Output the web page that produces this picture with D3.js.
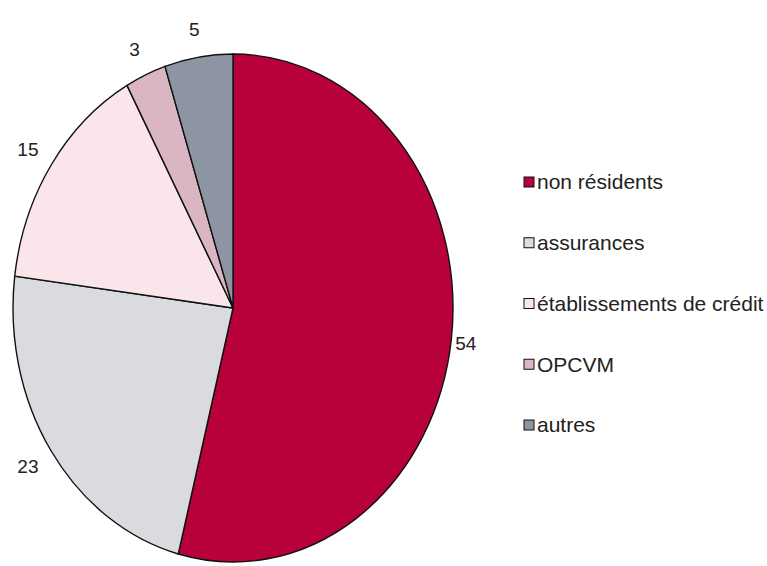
<!DOCTYPE html>
<html>
<head>
<meta charset="utf-8">
<script src="https://cdn.jsdelivr.net/npm/d3@7"></script>
<style>
  body { margin: 0; background: #fff; }
  text { font-family: "Liberation Sans Narrow", "Arial Narrow", "Liberation Sans", Arial, sans-serif; }
</style>
</head>
<body>
<script>
var w = 767;
var h = 566;
var categories = ['non résidents', 'assurances', 'établissements de crédit', 'OPCVM', 'autres'];
var values = [54, 23, 15, 3, 5];
var colors = ['#b8003a', '#d9dbdf', '#fae5ea', '#d9b6c1', '#8c95a1'];

// pie is stretched vertically in the original
var cx = 233, cy = 308;
var rx = 220, ry = 254;

var svg = d3.select('body')
   .append('svg')
   .attr('width', w)
   .attr('height', h);

var pie = d3.pie().sort(null).value(function(d) { return d; });
var arcs = pie(values);
var arc = d3.arc().innerRadius(0).outerRadius(ry);

var g = svg.append('g')
   .attr('transform', 'translate(' + cx + ',' + cy + ') scale(' + (rx / ry) + ',1)');

g.selectAll('path')
   .data(arcs)
   .enter()
   .append('path')
   .attr('d', arc)
   .attr('fill', function(d, i) { return colors[i]; })
   .attr('stroke', '#111')
   .attr('stroke-width', 1.4)
   .attr('vector-effect', 'non-scaling-stroke');

function mid(d) { return (d.startAngle + d.endAngle) / 2; }

// value labels outside the pie
svg.selectAll('text.lbl')
   .data(arcs)
   .enter()
   .append('text')
   .attr('class', 'lbl')
   .text(function(d) { return d.data; })
   .attr('x', function(d) {
      var s = Math.sin(mid(d));
      if (s > 0.5) return cx + s * rx + 4;
      return cx + s * (rx + 28);
   })
   .attr('y', function(d) {
      return cy - Math.cos(mid(d)) * (ry + 28);
   })
   .attr('dy', '0.35em')
   .attr('text-anchor', function(d) { return Math.sin(mid(d)) > 0.5 ? 'start' : 'middle'; })
   .attr('font-size', '19px')
   .attr('fill', '#222');

// legend
var legend = svg.selectAll('g.leg')
   .data(categories)
   .enter()
   .append('g')
   .attr('class', 'leg')
   .attr('transform', function(d, i) { return 'translate(524,' + (182 + i * 60.75) + ')'; });

legend.append('rect')
   .attr('x', 0)
   .attr('y', -5)
   .attr('width', 10)
   .attr('height', 10)
   .attr('fill', function(d, i) { return colors[i]; })
   .attr('stroke', '#111')
   .attr('stroke-width', 1);

legend.append('text')
   .text(function(d) { return d; })
   .attr('x', 13)
   .attr('y', 0)
   .attr('dy', '0.35em')
   .attr('font-size', '21px')
   .attr('fill', '#222');
</script>
</body>
</html>
